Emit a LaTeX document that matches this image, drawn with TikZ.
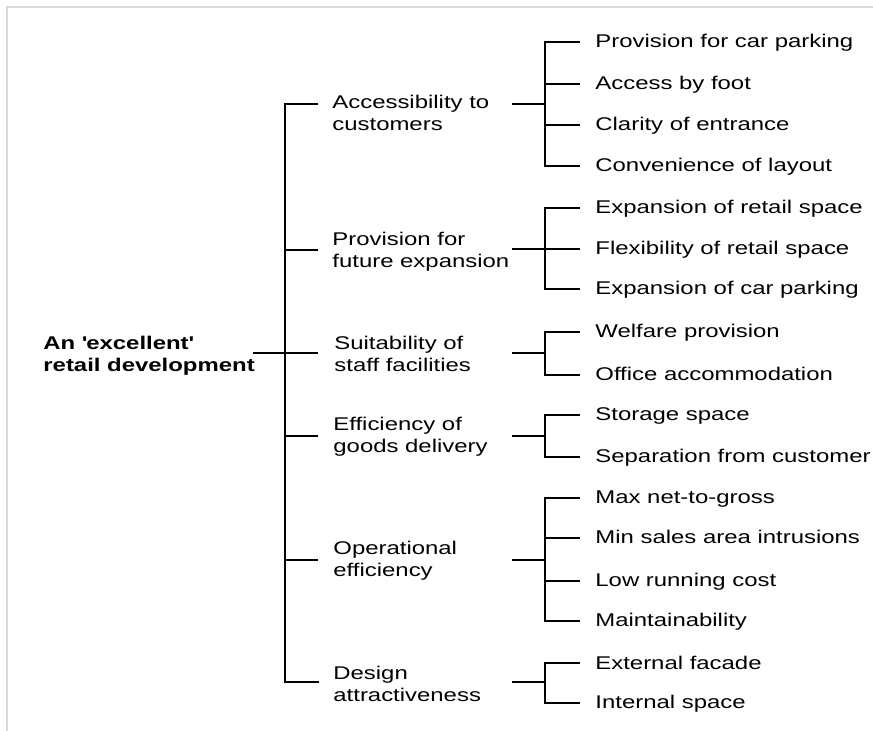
\documentclass[tikz,border=0pt]{standalone}
\usepackage{fontspec}
\setmainfont[FakeStretch=1.30]{Liberation Sans}
\usetikzlibrary{positioning,calc}

\begin{document}
\begin{tikzpicture}[
  x=0.5pt,y=-0.5pt,
  crit/.style={anchor=west,inner sep=0pt,align=left,font=\fontsize{9.2pt}{11pt}\selectfont},
  goal/.style={crit,font=\fontsize{9.2pt}{11pt}\selectfont\bfseries},
  leaf/.style={anchor=base west,inner sep=0pt,font=\fontsize{9.2pt}{11pt}\selectfont},
  tie/.style={line width=1pt,black},
  frame/.style={line width=0.6pt,gray!30},
]
  \useasboundingbox (0,0) rectangle (873,731);
  \draw[frame] (7,731) -- (7,7) -- (873,7);

  % goal and the six criteria
  \node[goal] (goal) at (43,356) {An \textquotesingle excellent\textquotesingle\\retail development};
  \node[crit] (acc)    at (332,113) {Accessibility to\\customers};
  \node[crit] (fut)    at (332,252) {Provision for\\future expansion};
  \node[crit] (staff)  at (334,354) {Suitability of\\staff facilities};
  \node[crit] (goods)  at (333,437) {Efficiency of\\goods delivery};
  \node[crit] (oper)   at (333,561) {Operational\\efficiency};
  \node[crit] (design) at (333,684) {Design\\attractiveness};

  % sub-criteria
  \node[leaf] (a1) at (595,48)  {Provision for car parking};
  \node[leaf] (a2) at (595,90)  {Access by foot};
  \node[leaf] (a3) at (595,131) {Clarity of entrance};
  \node[leaf] (a4) at (595,172) {Convenience of layout};
  \node[leaf] (f1) at (595,214) {Expansion of retail space};
  \node[leaf] (f2) at (595,255) {Flexibility of retail space};
  \node[leaf] (f3) at (595,295) {Expansion of car parking};
  \node[leaf] (s1) at (595,338) {Welfare provision};
  \node[leaf] (s2) at (595,381) {Office accommodation};
  \node[leaf] (g1) at (595,421) {Storage space};
  \node[leaf] (g2) at (595,463) {Separation from customer};
  \node[leaf] (o1) at (595,504) {Max net-to-gross};
  \node[leaf] (o2) at (595,544) {Min sales area intrusions};
  \node[leaf] (o3) at (595,587) {Low running cost};
  \node[leaf] (o4) at (595,627) {Maintainability};
  \node[leaf] (d1) at (595,669) {External facade};
  \node[leaf] (d2) at (595,709) {Internal space};

  % trunk
  \draw[tie] ($(goal.east)+(-2,-3)$) -- ($(staff.west)+(-16,-1)$);
  \draw[tie] ($(acc.west)+(-14,-9)$) -| ($(design.west)+(-48,-2)$) -- ($(design.west)+(-14,-2)$);
  \draw[tie] ($(fut.west)+(-47,-2)$) -- ++(33,0);
  \draw[tie] ($(goods.west)+(-48,-1)$) -- ++(33,0);
  \draw[tie] ($(oper.west)+(-48,-1)$) -- ++(33,0);

  % brackets to the sub-criteria
  \draw[tie] ($(acc.west)+(180,-9)$) -- ++(33,0);
  \draw[tie] ($(a1.base west)+(-15,-6)$) -| ($(a4.base west)+(-50,-6)$) -- ($(a4.base west)+(-15,-6)$);
  \draw[tie] ($(a2.base west)+(-50,-6)$) -- ++(35,0);
  \draw[tie] ($(a3.base west)+(-50,-6)$) -- ++(35,0);

  \draw[tie] ($(fut.west)+(180,-3)$) -- ($(f2.base west)+(-15,-6)$);
  \draw[tie] ($(f1.base west)+(-15,-6)$) -| ($(f3.base west)+(-50,-6)$) -- ($(f3.base west)+(-15,-6)$);

  \draw[tie] ($(staff.west)+(178,-1)$) -- ++(33,0);
  \draw[tie] ($(s1.base west)+(-15,-6)$) -| ($(s2.base west)+(-50,-6)$) -- ($(s2.base west)+(-15,-6)$);

  \draw[tie] ($(goods.west)+(179,-1)$) -- ++(33,0);
  \draw[tie] ($(g1.base west)+(-15,-6)$) -| ($(g2.base west)+(-50,-6)$) -- ($(g2.base west)+(-15,-6)$);

  \draw[tie] ($(oper.west)+(179,-1)$) -- ++(33,0);
  \draw[tie] ($(o1.base west)+(-15,-6)$) -| ($(o4.base west)+(-50,-6)$) -- ($(o4.base west)+(-15,-6)$);
  \draw[tie] ($(o2.base west)+(-50,-6)$) -- ++(35,0);
  \draw[tie] ($(o3.base west)+(-50,-6)$) -- ++(35,0);

  \draw[tie] ($(design.west)+(179,-2)$) -- ++(33,0);
  \draw[tie] ($(d1.base west)+(-15,-6)$) -| ($(d2.base west)+(-50,-6)$) -- ($(d2.base west)+(-15,-6)$);
\end{tikzpicture}
\end{document}
